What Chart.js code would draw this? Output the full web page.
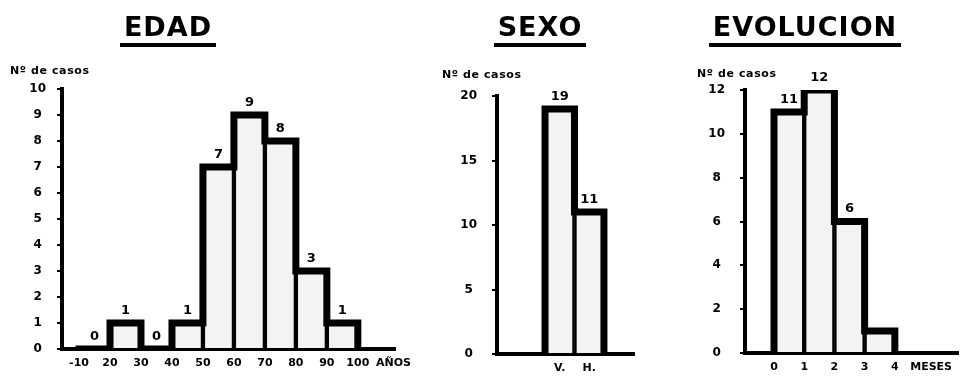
<!DOCTYPE html>
<html>
<head>
<meta charset="utf-8">
<script src="https://cdn.jsdelivr.net/npm/chart.js@4.4.1/dist/chart.umd.min.js"></script>
<style>
  body { margin: 0; width: 960px; height: 377px; background: #fff; position: relative; overflow: hidden; font-family: "DejaVu Sans", sans-serif; }
  .box { position: absolute; top: 0; height: 377px; filter: blur(0.5px); }
  .title { position: absolute; top: 12px; text-align: center; filter: blur(0.6px); }
  .title span { display: inline-block; font-weight: bold; font-size: 27px; line-height: 30px; letter-spacing: 1px; border-bottom: 4px solid #000; padding: 0 4px 1px; }
  .cap { position: absolute; font-weight: bold; font-size: 11px; letter-spacing: 0.6px; filter: blur(0.5px); }
</style>
</head>
<body>

<div class="title" style="left:68px;width:200px;"><span>EDAD</span></div>
<div class="title" style="left:440px;width:200px;"><span>SEXO</span></div>
<div class="title" style="left:705px;width:200px;"><span>EVOLUCION</span></div>

<div class="cap" style="left:10px;top:64px;">Nº de casos</div>
<div class="cap" style="left:442px;top:68px;">Nº de casos</div>
<div class="cap" style="left:697px;top:67px;">Nº de casos</div>

<div class="box" style="left:0;width:420px;"><canvas id="edadChart"></canvas></div>
<div class="box" style="left:430px;width:220px;"><canvas id="sexoChart"></canvas></div>
<div class="box" style="left:680px;width:280px;"><canvas id="evolChart"></canvas></div>

<script>
// ============================
// Data
// ============================
const edadLimites = [10, 20, 30, 40, 50, 60, 70, 80, 90, 100];
const edadTicks = ["-10", "20", "30", "40", "50", "60", "70", "80", "90", "100"];
const edadCasos = [0, 1, 0, 1, 7, 9, 8, 3, 1];

const sexoCategorias = ["V.", "H."];
const sexoCasos = [19, 11];

const evolMeses = [0, 1, 2, 3, 4];
const evolTicks = ["0", "1", "2", "3", "4"];
const evolCasos = [11, 12, 6, 1];
const evolTextos = ["11", "12", "6", ""];

const FONT = '"DejaVu Sans", sans-serif';

// ============================
// Labels above the bars
// ============================
const etiquetasPlugin = {
    id: "etiquetas",
    afterDatasetsDraw(chart, args, opts) {
        const meta = chart.getDatasetMeta(1);
        const ctx = chart.ctx;
        ctx.save();
        ctx.font = "bold 13px " + FONT;
        ctx.fillStyle = "#000";
        ctx.textAlign = "center";
        ctx.textBaseline = "bottom";
        meta.data.forEach((bar, i) => {
            ctx.fillText(opts.textos[i], bar.x, bar.y - 6);
        });
        ctx.restore();
    }
};

// ============================
// Histogram builder
// ============================
function histograma(id, c) {
    // bar centres and stepped outline built from the bin edges
    const barras = c.valores.map((v, i) => ({ x: (c.limites[i] + c.limites[i + 1]) / 2, y: v }));
    const contorno = [{ x: c.limites[0], y: 0 }];
    c.valores.forEach((v, i) => contorno.push({ x: c.limites[i], y: v }));
    contorno.push({ x: c.limites[c.valores.length], y: 0 });

    new Chart(document.getElementById(id), {
        type: "bar",
        data: {
            datasets: [{
                type: "line",
                data: contorno,
                stepped: "before",
                borderColor: "#000",
                borderWidth: 7,
                borderCapStyle: "square",
                borderJoinStyle: "miter",
                pointRadius: 0,
                fill: false
            }, {
                data: barras,
                backgroundColor: "#f3f3f3",
                borderColor: "#000",
                borderWidth: 2.5,
                barPercentage: 1,
                categoryPercentage: 1
            }]
        },
        options: {
            responsive: true,
            maintainAspectRatio: false,
            animation: false,
            events: [],
            layout: { padding: { top: c.top, right: c.right, left: 0, bottom: 0 } },
            plugins: {
                legend: { display: false },
                tooltip: { enabled: false },
                etiquetas: { textos: c.textos }
            },
            scales: {
                x: {
                    type: "linear",
                    offset: false,
                    min: c.xmin,
                    max: c.xmax,
                    grid: { display: false, drawTicks: false },
                    border: { display: true, color: "#000", width: 4 },
                    afterBuildTicks: (scale) => { scale.ticks = c.tickPos.map(v => ({ value: v })); },
                    afterFit: (scale) => { scale.height = 377 - c.bottom; },
                    ticks: {
                        autoSkip: false,
                        maxRotation: 0,
                        padding: 8,
                        color: "#000",
                        font: { family: FONT, size: 11, weight: "bold" },
                        callback: (value, index) => c.tickTxt[index]
                    }
                },
                y: {
                    min: 0,
                    max: c.ymax,
                    grid: { display: true, drawOnChartArea: false, drawTicks: true, tickLength: 5, color: "#000", lineWidth: 2 },
                    border: { display: true, color: "#000", width: 4 },
                    afterFit: (scale) => { scale.width = c.left; },
                    ticks: {
                        stepSize: c.step,
                        crossAlign: "center",
                        padding: c.pad,
                        color: "#000",
                        font: { family: FONT, size: 12, weight: "bold" }
                    }
                }
            }
        },
        plugins: [etiquetasPlugin]
    });
}

document.addEventListener("DOMContentLoaded", function () {

    // ========================
    // EDAD
    // ========================
    histograma("edadChart", {
        limites: edadLimites,
        valores: edadCasos,
        textos: edadCasos.map(String),
        tickPos: edadLimites.concat([111.5]),
        tickTxt: edadTicks.concat(["AÑOS"]),
        xmin: 4.5, xmax: 112,
        ymax: 10, step: 1,
        left: 62, right: 25, top: 89, bottom: 349, pad: 11
    });

    // ========================
    // SEXO
    // ========================
    histograma("sexoChart", {
        limites: [0, 1, 2],
        valores: sexoCasos,
        textos: sexoCasos.map(String),
        tickPos: [0.5, 1.5],
        tickTxt: sexoCategorias,
        xmin: -1.63, xmax: 3.02,
        ymax: 20, step: 5,
        left: 67, right: 16, top: 96, bottom: 354, pad: 15
    });

    // ========================
    // EVOLUCION
    // ========================
    histograma("evolChart", {
        limites: evolMeses,
        valores: evolCasos,
        textos: evolTextos,
        tickPos: evolMeses.concat([5.2]),
        tickTxt: evolTicks.concat(["MESES"]),
        xmin: -0.96, xmax: 6.1,
        ymax: 12, step: 2,
        left: 65, right: 0, top: 90, bottom: 353, pad: 15
    });
});
</script>
</body>
</html>
